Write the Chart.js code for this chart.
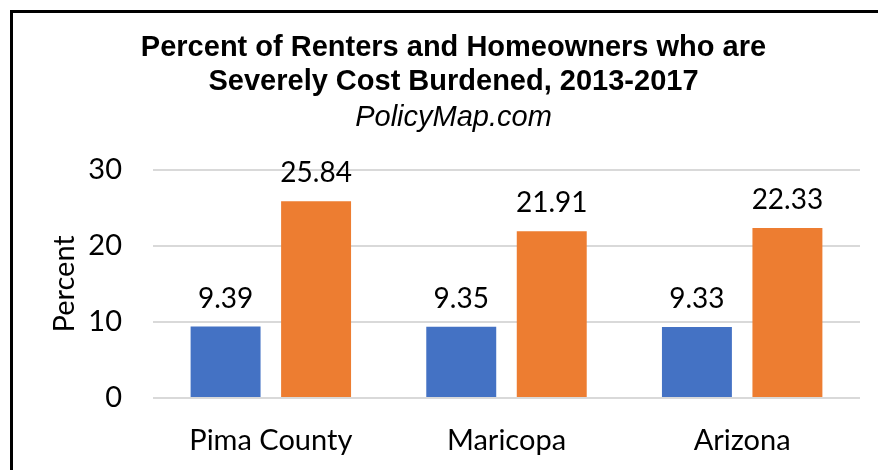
<!DOCTYPE html>
<html>
<head>
<meta charset="utf-8">
<script src="https://cdn.jsdelivr.net/npm/chart.js@4/dist/chart.umd.min.js"></script>
<style>
  body { margin: 0; background: #fff; }
  #wrap { position: relative; width: 878px; height: 470px; overflow: hidden; }
  #frame { position: absolute; left: 10px; top: 10px; width: 900px; height: 500px;
           border-top: 3px solid #000; border-left: 3px solid #000; pointer-events: none; }
</style>
</head>
<body>
<div id="wrap">
  <canvas id="chart" width="878" height="470"></canvas>
  <div id="frame"></div>
</div>
<script>
const places = ["Pima County", "Maricopa", "Arizona"];
const homeowners = [9.39, 9.35, 9.33];
const renters = [25.84, 21.91, 22.33];
const yTicks = [0, 10, 20, 30];

// draw the value above each bar
const valueLabels = {
  id: 'valueLabels',
  afterDatasetsDraw(chart) {
    const ctx = chart.ctx;
    ctx.save();
    ctx.font = '28px Lato';
    ctx.fillStyle = '#000';
    ctx.textAlign = 'center';
    ctx.textBaseline = 'alphabetic';
    chart.data.datasets.forEach((ds, i) => {
      chart.getDatasetMeta(i).data.forEach((bar, j) => {
        ctx.fillText(ds.data[j].toFixed(2), bar.x, bar.y - 19);
      });
    });
    ctx.restore();
  }
};

new Chart(document.getElementById('chart'), {
  type: 'bar',
  data: {
    labels: places,
    datasets: [{
      label: 'Homeowners',
      data: homeowners,
      backgroundColor: '#4472C4',
      barPercentage: 0.773,
      categoryPercentage: 0.768
    }, {
      label: 'Renters',
      data: renters,
      backgroundColor: '#ED7D31',
      barPercentage: 0.773,
      categoryPercentage: 0.768
    }]
  },
  options: {
    responsive: false,
    animation: false,
    layout: { padding: { left: 47, right: 18, top: 31, bottom: 0 } },
    plugins: {
      legend: { display: false },
      tooltip: { enabled: false },
      title: {
        display: true,
        text: ['Percent of Renters and Homeowners who are', 'Severely Cost Burdened, 2013-2017'],
        color: '#000',
        font: { family: 'Liberation Sans', size: 29, weight: 'bold', lineHeight: 1.17 },
        padding: { top: 0, bottom: 0 }
      },
      subtitle: {
        display: true,
        text: 'PolicyMap.com',
        color: '#000',
        font: { family: 'Liberation Sans', size: 29, style: 'italic' },
        padding: { top: 2, bottom: 34 }
      }
    },
    scales: {
      x: {
        afterFit(scale) { scale.height = 72; },
        grid: { display: false, drawTicks: false },
        border: { display: false },
        ticks: { color: '#000', font: { family: 'Lato', size: 29 }, padding: 25 }
      },
      y: {
        min: 0,
        max: 30,
        afterBuildTicks(scale) { scale.ticks = yTicks.map(v => ({ value: v })); },
        afterFit(scale) { scale.width = 106; },
        grid: { color: '#d9d9d9', lineWidth: 2, drawTicks: false },
        border: { display: false },
        ticks: { color: '#000', font: { family: 'Lato', size: 29 }, padding: 31 },
        title: {
          display: true,
          text: 'Percent',
          color: '#000',
          font: { family: 'Lato', size: 29 },
          padding: 0
        }
      }
    }
  },
  plugins: [valueLabels]
});
</script>
</body>
</html>
